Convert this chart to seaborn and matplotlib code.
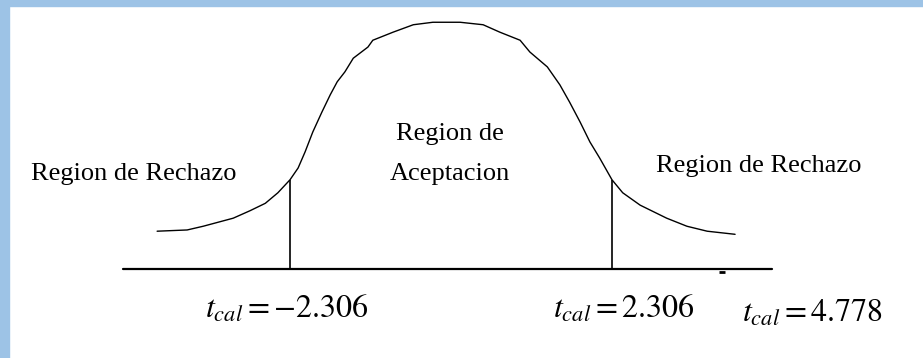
import numpy as np
import pandas as pd
import seaborn as sns
import matplotlib.pyplot as plt
from matplotlib.patches import Rectangle

# Bell curve (t value, curve height)
curve_t = [-4.21, -3.78, -3.55, -3.12, -2.88, -2.66, -2.48, -2.306, -2.19, -2.09,
           -1.98, -1.85, -1.73, -1.63, -1.52, -1.40, -1.19, -1.12, -0.83, -0.54,
           -0.26, 0.13, 0.46, 0.70, 0.99, 1.13, 1.38, 1.56, 1.70, 1.85,
           1.99, 2.13, 2.306, 2.46, 2.71, 3.09, 3.38, 3.67, 4.07]
curve_h = [0.061, 0.063, 0.069, 0.082, 0.094, 0.106, 0.123, 0.144, 0.163, 0.189,
           0.221, 0.253, 0.281, 0.302, 0.318, 0.340, 0.358, 0.369, 0.382, 0.394,
           0.398, 0.398, 0.394, 0.382, 0.369, 0.350, 0.326, 0.297, 0.269, 0.237,
           0.205, 0.179, 0.144, 0.123, 0.103, 0.082, 0.069, 0.061, 0.056]

# critical values and their heights on the curve
crit_t = [-2.306, 2.306]
crit_h = [0.144, 0.144]

# horizontal axis extent
axis_t = [-4.70, 4.60]
axis_h = [0.0, 0.0]

# small dash under the axis
mark_t = [3.88]

region_labels = ['Region de Rechazo', 'Region de\nAceptacion', 'Region de Rechazo']
tcal_values = ['-2.306', '2.306', '4.778']

sns.set_theme(style='white')
plt.rcParams['font.family'] = ['Liberation Serif', 'DejaVu Serif']
plt.rcParams['mathtext.fontset'] = 'stix'

fig = plt.figure(figsize=(9.23, 3.58), dpi=100)
fig.patch.set_facecolor('white')
ax = fig.add_axes([0, 0, 1, 1])

# curve
sns.lineplot(x=curve_t, y=curve_h, color='black', linewidth=1.0, estimator=None, ax=ax)
# axis line
sns.lineplot(x=axis_t, y=axis_h, color='black', linewidth=1.6, estimator=None, ax=ax)
# critical lines
ax.vlines(crit_t, 0, crit_h, color='black', linewidth=1.2)
ax.plot(mark_t, [-0.004], marker='_', color='black', markersize=5, markeredgewidth=2)

ax.set_xlim(-6.461, 6.762)
ax.set_ylim(-0.1435, 0.4339)
ax.set_axis_off()

# region labels
ax.text(-6.02, 0.1435, region_labels[0], fontsize=19, color='black', ha='left', va='baseline')
lines_mid = region_labels[1].split('\n')
ax.text(-0.014, 0.208, lines_mid[0], fontsize=19, color='black', ha='center', va='baseline')
ax.text(-0.014, 0.1435, lines_mid[1], fontsize=19, color='black', ha='center', va='baseline')
ax.text(2.937, 0.156, region_labels[2], fontsize=19, color='black', ha='left', va='baseline')

# t_cal labels
tcal_pos = [(-3.524, -0.079), (1.461, -0.079), (4.169, -0.0855)]
for (tx, ty), val in zip(tcal_pos, tcal_values):
    ax.text(tx, ty, r'$t_{cal}=' + val + '$', fontsize=23, color='black',
            ha='left', va='baseline')

# light blue frame on the left and top
fig.patches.append(Rectangle((0, 0), 9 / 923, 1, transform=fig.transFigure,
                             color='#9dc3e6', zorder=-1))
fig.patches.append(Rectangle((0, 1 - 6 / 358), 1, 6 / 358, transform=fig.transFigure,
                             color='#9dc3e6', zorder=-1))

fig.savefig('out.png', dpi=100, facecolor='white')
